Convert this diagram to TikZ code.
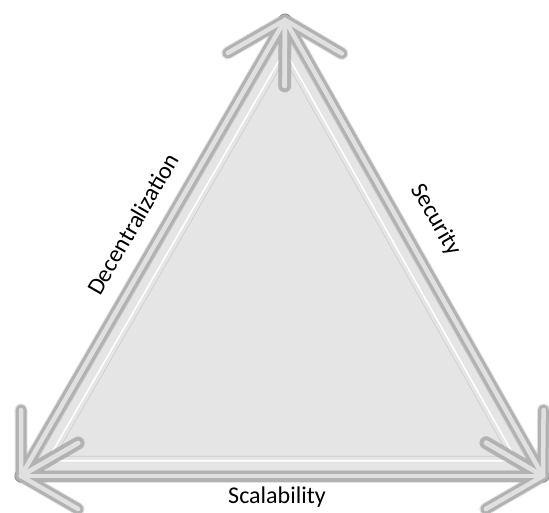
\documentclass[tikz,border=0pt]{standalone}
\usepackage{fontspec}
\setmainfont{Carlito}
\usetikzlibrary{calc}

\tikzset{
  shaftshadow/.style={line width=13pt, line cap=round, draw=black, opacity=0.10},
  shaftdark/.style={line width=11pt, line cap=round, draw=black!30},
  shaftlight/.style={line width=4.5pt, line cap=round, draw=black!12},
  sidelabel/.style={font=\fontsize{24}{28}\selectfont, inner sep=0pt},
}

% Arm length of the chevron heads
\def\armlen{66pt}

% Two-way arrow: #1 from, #2 to, #3 style
\newcommand{\twowayarrow}[3]{%
  \draw[#3] (#1) -- (#2);
  \draw[#3] (#1) -- ($(#1)!\armlen!30:(#2)$);
  \draw[#3] (#1) -- ($(#1)!\armlen!-30:(#2)$);
  \draw[#3] (#2) -- ($(#2)!\armlen!30:(#1)$);
  \draw[#3] (#2) -- ($(#2)!\armlen!-30:(#1)$);
}

\begin{document}
\begin{tikzpicture}[x=1pt, y=-1pt]

\useasboundingbox (0,0) rectangle (549,513);

% Corners
\coordinate (T) at (285,20);
\coordinate (L) at (21,476);
\coordinate (R) at (543,476);
\coordinate (C) at (283,324);

% Inner triangle
\fill[black!10] (T) -- (L) -- (R) -- cycle;
\draw[white, line width=1.5pt] ($(C)!0.9!(T)$) -- ($(C)!0.9!(L)$) -- ($(C)!0.9!(R)$) -- cycle;
\draw[black!20, line width=0.6pt] ($(C)!0.87!(T)$) -- ($(C)!0.87!(L)$) -- ($(C)!0.87!(R)$) -- cycle;

% Shadows
\begin{scope}[xshift=2pt, yshift=-3pt]
  \twowayarrow{T}{L}{shaftshadow}
  \twowayarrow{T}{R}{shaftshadow}
  \twowayarrow{L}{R}{shaftshadow}
\end{scope}

% Arrows
\twowayarrow{T}{L}{shaftdark}
\twowayarrow{T}{R}{shaftdark}
\twowayarrow{L}{R}{shaftdark}
\twowayarrow{T}{L}{shaftlight}
\twowayarrow{T}{R}{shaftlight}
\twowayarrow{L}{R}{shaftlight}

% Labels
\node[sidelabel, rotate=60]  (dec) at (133,224) {Decentralization};
\node[sidelabel, rotate=-60] (sec) at (436,220) {Security};
\node[sidelabel]             (sca) at (277,497) {Scalability};

\end{tikzpicture}
\end{document}
